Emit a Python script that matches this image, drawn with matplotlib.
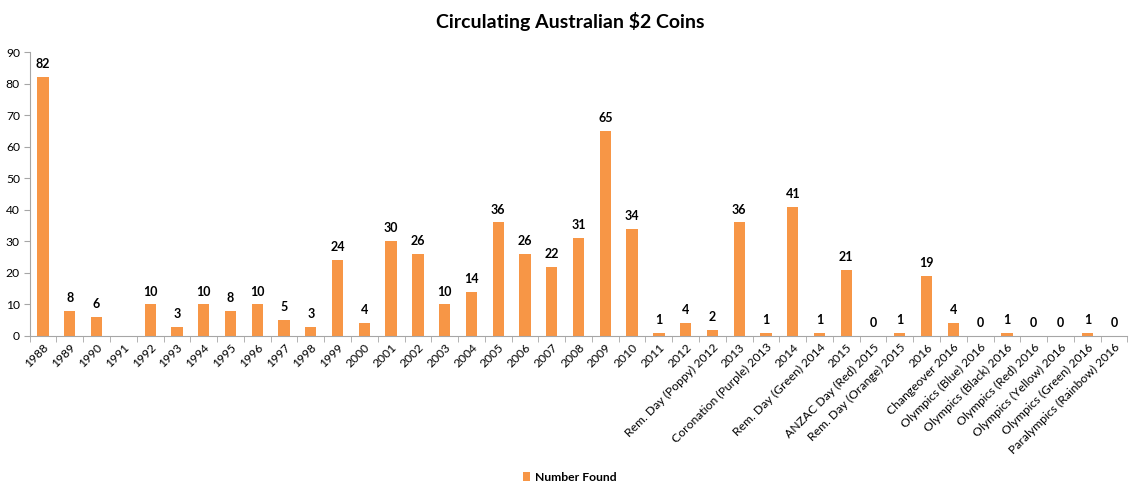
import numpy as np
import matplotlib
matplotlib.use("Agg")
import matplotlib.pyplot as plt

plt.rcParams['font.family'] = ['Lato', 'DejaVu Sans']

categorias = [
    "1988", "1989", "1990", "1991", "1992", "1993", "1994", "1995", "1996",
    "1997", "1998", "1999", "2000", "2001", "2002", "2003", "2004", "2005",
    "2006", "2007", "2008", "2009", "2010", "2011", "2012",
    "Rem. Day (Poppy) 2012", "2013", "Coronation (Purple) 2013", "2014",
    "Rem. Day (Green) 2014", "2015", "ANZAC Day (Red) 2015",
    "Rem. Day (Orange) 2015", "2016", "Changeover 2016",
    "Olympics (Blue) 2016", "Olympics (Black) 2016", "Olympics (Red) 2016",
    "Olympics (Yellow) 2016", "Olympics (Green) 2016",
    "Paralympics (Rainbow) 2016",
]
# None = sin dato (1991)
encontradas = [
    82, 8, 6, None, 10, 3, 10, 8, 10, 5, 3, 24, 4, 30, 26, 10, 14, 36,
    26, 22, 31, 65, 34, 1, 4, 2, 36, 1, 41, 1, 21, 0, 1, 19, 4, 0, 1, 0,
    0, 1, 0,
]

color_barra = "#F79646"
color_eje = "#A6A6A6"

fig = plt.figure(figsize=(11.4, 4.97), dpi=100)
ax = fig.add_axes([0.026, 0.324, 0.963, 0.571])

x = np.arange(len(categorias))
alturas = [v if v is not None else 0 for v in encontradas]
barras = ax.bar(x, alturas, width=0.42, color=color_barra, label="Number Found")

for xi, v in zip(x, encontradas):
    if v is None:
        continue
    ax.text(xi, v + 2.2, str(v), ha="center", va="bottom",
            fontsize=9, fontweight="bold", color="black")

ax.set_xlim(-0.5, len(categorias) - 0.5)
ax.set_ylim(0, 90)
ax.set_yticks(np.arange(0, 91, 10))
ax.set_xticks(x)
ax.set_xticklabels(categorias, rotation=45, ha="right", rotation_mode="anchor",
                   fontsize=8.7)
ax.tick_params(axis="x", which="major", length=0, pad=4)
ax.set_xticks(np.arange(-0.5, len(categorias), 1), minor=True)
ax.tick_params(axis="x", which="minor", length=4, color=color_eje)
ax.tick_params(axis="y", length=4, color=color_eje, labelsize=8.7, pad=3)

for lado in ["top", "right"]:
    ax.spines[lado].set_visible(False)
for lado in ["left", "bottom"]:
    ax.spines[lado].set_color(color_eje)

fig.suptitle("Circulating Australian $2 Coins", y=0.975, fontsize=14,
             fontweight="bold")

leg = fig.legend(handles=[barras], labels=["Number Found"], loc="center",
                 bbox_to_anchor=(0.5, 0.04), frameon=False, handlelength=0.6,
                 handleheight=0.8, handletextpad=0.4,
                 prop={"size": 8.7, "weight": "bold"})

fig.savefig("out.png", dpi=100)
